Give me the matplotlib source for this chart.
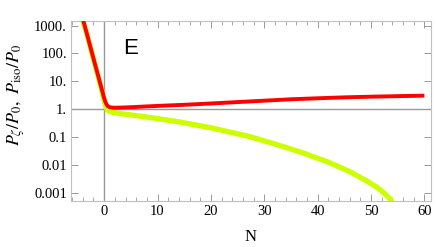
import numpy as np
import matplotlib
matplotlib.use("Agg")
import matplotlib.pyplot as plt
from matplotlib.ticker import FixedLocator, FixedFormatter, LogLocator, MultipleLocator, NullFormatter

# values
n_red = [-4.2, -3, -2, -1, -0.5, 0, 0.3, 0.6, 1, 1.5, 2, 3, 5, 8, 11, 15, 20, 25, 30, 35, 40, 45, 50, 55, 60]
p_zeta = [2400, 340, 66, 13, 5.7, 2.5, 1.7, 1.35, 1.2, 1.16, 1.15, 1.16, 1.2, 1.28, 1.36, 1.46, 1.63,
          1.83, 2.05, 2.3, 2.5, 2.7, 2.85, 2.98, 3.1]

n_green = [-4.3, -3, -2, -1, -0.5, 0, 0.3, 0.6, 1, 2, 3, 6, 10, 14, 20, 27, 32, 37, 42, 46, 49, 51, 52.5, 53.5, 54.2]
p_iso = [2400, 330, 62, 12, 5, 2.1, 1.3, 0.95, 0.84, 0.76, 0.71, 0.6, 0.47, 0.36, 0.22, 0.11, 0.058,
         0.029, 0.013, 0.006, 0.0029, 0.0017, 0.001, 0.00065, 0.0004]

y_ticks = [0.001, 0.01, 0.1, 1, 10, 100, 1000]
y_tick_labels = ["0.001", "0.01", "0.1", "1.", "10.", "100.", "1000."]
x_ticks = [0, 10, 20, 30, 40, 50, 60]

plt.rcParams["mathtext.fontset"] = "stix"
plt.rcParams["font.family"] = ["Liberation Serif", "DejaVu Serif"]

fig = plt.figure(figsize=(4.36, 2.47), dpi=100)
ax = fig.add_axes([0.163, 0.188, 0.825, 0.728])

ax.axhline(1, color="#999999", lw=1.0, zorder=1)
ax.axvline(0, color="#999999", lw=1.0, zorder=1)

ax.plot(n_green, p_iso, color="#ccff00", lw=3.8, solid_capstyle="butt", zorder=2)
ax.plot(n_red, p_zeta, color="#ff0000", lw=2.8, solid_capstyle="butt", zorder=3)

ax.set_yscale("log")
ax.set_xlim(-6.2, 61.2)
ax.set_ylim(0.00055, 1480)

ax.yaxis.set_major_locator(FixedLocator(y_ticks))
ax.yaxis.set_major_formatter(FixedFormatter(y_tick_labels))
ax.yaxis.set_minor_locator(LogLocator(base=10, subs=np.arange(2, 10)))
ax.yaxis.set_minor_formatter(NullFormatter())
ax.set_xticks(x_ticks)
ax.xaxis.set_minor_locator(MultipleLocator(2))

for s in ax.spines.values():
    s.set_color("#c0c0c0")
    s.set_linewidth(0.8)

ax.tick_params(which="both", direction="in", top=True, right=True, color="#999999",
               labelsize=10.5, pad=3)
ax.tick_params(which="major", length=5, width=0.7)
ax.tick_params(which="minor", length=3, width=0.6)

ax.text(5, 145, "E", fontsize=16, family="Liberation Sans", ha="center", va="center")

ax.set_xlabel("N", fontsize=12, labelpad=8)
ax.set_ylabel(r"$P_\zeta/P_0,\ P_{\rm iso}/P_0$", fontsize=13)
ax.yaxis.set_label_coords(-0.123, 0.587)

fig.savefig("out.png", dpi=100)
